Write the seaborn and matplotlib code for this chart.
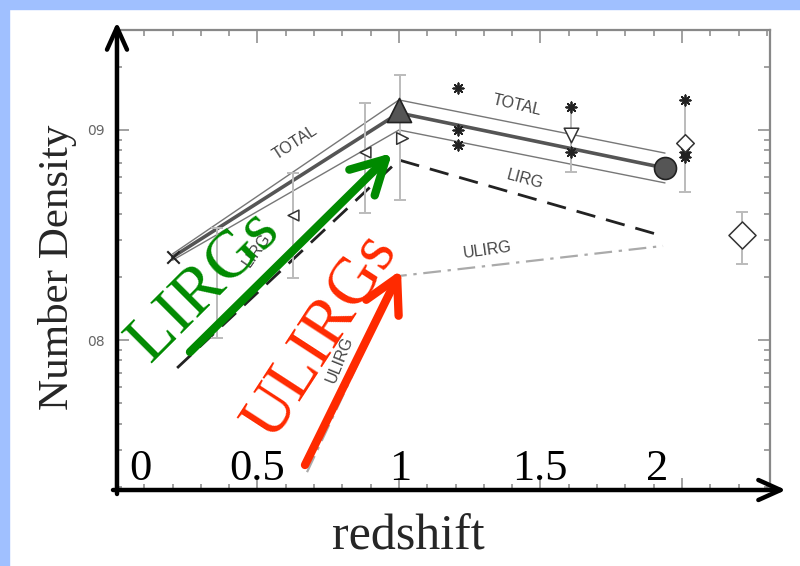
import numpy as np
import matplotlib
matplotlib.use("Agg")
import matplotlib.pyplot as plt
from matplotlib.patches import Rectangle
from matplotlib.ticker import FixedLocator, FixedFormatter, MultipleLocator, LogLocator, NullFormatter
import seaborn as sns

# model curves: redshift vs log10 number density
total_z = [0.20, 1.0, 1.94]
total_mid = [8.395, 9.081, 8.819]
total_hi = [8.41, 9.143, 8.89]
total_lo = [8.38, 9.0, 8.748]
lirg_z = [0.216, 1.0, 1.933]
lirg_n = [7.867, 8.857, 8.495]
ulirg_z = [0.675, 1.0, 1.933]
ulirg_n = [7.371, 8.305, 8.448]

# measurements with error bars
err_z = [0.357, 0.625, 0.88, 1.003, 1.608, 2.011, 2.212]
err_lo = [8.010, 8.295, 8.605, 8.667, 8.80, 8.705, 8.362]
err_hi = [8.533, 8.795, 9.129, 9.262, 9.11, 9.143, 8.61]

cross_z, cross_n = [0.20], [8.395]
tri_z, tri_n = [1.0], [9.095]
circ_z, circ_n = [1.94], [8.819]
rtri_z, rtri_n = [1.01], [8.962]
ltri_z, ltri_n = [0.625, 0.88], [8.595, 8.895]
dtri_z, dtri_n = [1.608], [8.976]
star_z = [1.208, 1.208, 1.208, 1.608, 1.608, 2.011, 2.011, 2.011]
star_n = [9.20, 9.0, 8.929, 9.11, 8.895, 9.143, 8.895, 8.871]
dia_z, dia_n = [2.011], [8.938]
bigdia_z, bigdia_n = [2.212], [8.50]

ytick_vals = [8, 9]
ytick_text = ["08", "09"]
slide_ticks = ["0", "0.5", "1", "1.5", "2"]
slide_tick_z = [0.085, 0.498, 1.003, 1.498, 1.912]

def dens(v):
    return 10 ** np.asarray(v, dtype=float)

sns.set_style("white")
plt.rcParams['font.family'] = ['Liberation Serif', 'DejaVu Serif']

fig = plt.figure(figsize=(8, 5.66), dpi=100)
fig.patches.append(Rectangle((0, 1 - 9 / 566), 1, 9 / 566, transform=fig.transFigure,
                             color='#a0c0ff', zorder=0))
fig.patches.append(Rectangle((0, 0), 9 / 800, 1, transform=fig.transFigure,
                             color='#a0c0ff', zorder=0))

ax = fig.add_axes([116 / 800, 1 - 490 / 566, 654 / 800, 460 / 566])
ax.set_yscale('log')

# scanned figure (grey)
sns.lineplot(x=total_z, y=dens(total_hi), ax=ax, color='#777777', lw=1.0, sort=False)
sns.lineplot(x=total_z, y=dens(total_lo), ax=ax, color='#777777', lw=1.0, sort=False)
sns.lineplot(x=total_z, y=dens(total_mid), ax=ax, color='#555555', lw=2.6, sort=False)
sns.lineplot(x=lirg_z, y=dens(lirg_n), ax=ax, color='#222222', lw=2.0,
             linestyle=(0, (7, 4)), sort=False)
sns.lineplot(x=ulirg_z, y=dens(ulirg_n), ax=ax, color='#aaaaaa', lw=1.6,
             linestyle=(0, (8, 3, 1.5, 3)), sort=False)

mid = (np.asarray(err_lo) + np.asarray(err_hi)) / 2
ax.errorbar(err_z, dens(mid), yerr=[dens(mid) - dens(err_lo), dens(err_hi) - dens(mid)],
            fmt='none', ecolor='#bbbbbb', elinewidth=1.4, capsize=4.3, capthick=1.4, zorder=2)

sns.scatterplot(x=cross_z, y=dens(cross_n), ax=ax, marker='x', s=80, color='#222222',
                linewidth=1.5, zorder=4)
sns.scatterplot(x=star_z, y=dens(star_n), ax=ax, marker=(8, 2, 0), s=55, color='#222222',
                linewidth=1.3, zorder=4)
sns.scatterplot(x=tri_z, y=dens(tri_n), ax=ax, marker='^', s=300, color='#555555',
                edgecolor='#222222', linewidth=1.2, zorder=5)
sns.scatterplot(x=circ_z, y=dens(circ_n), ax=ax, marker='o', s=250, color='#555555',
                edgecolor='#222222', linewidth=1.2, zorder=5)
for mz, mn, mk, sz in [(rtri_z, rtri_n, '>', 70), (ltri_z, ltri_n, '<', 60),
                       (dtri_z, dtri_n, 'v', 110), (dia_z, dia_n, 'D', 80),
                       (bigdia_z, bigdia_n, 'D', 190)]:
    sns.scatterplot(x=mz, y=dens(mn), ax=ax, marker=mk, s=sz, facecolor='white',
                    edgecolor='#333333', linewidth=1.1, zorder=4)

scan_font = dict(family='Liberation Sans', color='#444444', fontsize=11.5,
                 ha='center', va='center')
ax.text(0.633, dens(8.938), "TOTAL", rotation=33, **scan_font)
ax.text(1.417, dens(9.119), "TOTAL", rotation=-13, **scan_font)
ax.text(1.445, dens(8.762), "LIRG", rotation=-15, **scan_font)
ax.text(1.311, dens(8.429), "ULIRG", rotation=8, **scan_font)
ax.text(0.498, dens(8.429), "LIRG", rotation=55, **scan_font)
ax.text(0.79, dens(7.905), "ULIRG", rotation=68, **scan_font)

ax.set_xlim(0, 2.311)
ax.set_ylim(dens(7.286), dens(9.476))
ax.xaxis.set_major_locator(MultipleLocator(0.5))
ax.xaxis.set_minor_locator(MultipleLocator(0.1))
ax.xaxis.set_major_formatter(NullFormatter())
ax.yaxis.set_major_locator(FixedLocator(dens(ytick_vals)))
ax.yaxis.set_major_formatter(FixedFormatter(ytick_text))
ax.yaxis.set_minor_locator(LogLocator(base=10, subs=np.arange(2, 10)))
ax.yaxis.set_minor_formatter(NullFormatter())
ax.tick_params(which='both', direction='in', top=True, right=True, bottom=True, left=True,
               color='#888888', width=1.1)
ax.tick_params(which='major', length=9)
ax.tick_params(which='minor', length=4)
ax.tick_params(axis='y', which='major', labelsize=10, labelcolor='#666666', pad=8)
for lab in ax.get_yticklabels():
    lab.set_family('DejaVu Sans')
for sp in ax.spines.values():
    sp.set_color('#888888')
    sp.set_linewidth(1.6)
ax.set_xlabel("")
ax.set_ylabel("")

# slide overlay
for lab, z in zip(slide_ticks, slide_tick_z):
    ax.text(z, 0.022, lab, transform=ax.get_xaxis_transform(), fontsize=32,
            ha='center', va='baseline', color='black', zorder=8)

fig.text(0.0725, 0.528, "Number Density", rotation=90, fontsize=31,
         ha='center', va='center')
fig.text(0.511, 0.051, "redshift", fontsize=36, ha='center', va='center')

black_arrow = dict(arrowstyle='->,head_length=0.8,head_width=0.36', lw=3.2, color='black',
                   mutation_scale=20, shrinkA=0, shrinkB=0,
                   capstyle='round', joinstyle='round')
ax.annotate("", xy=(117 / 800, 1 - 22 / 566), xytext=(117 / 800, 1 - 494 / 566),
            xycoords='figure fraction', textcoords='figure fraction',
            arrowprops=black_arrow, annotation_clip=False, zorder=9)
ax.annotate("", xy=(786 / 800, 1 - 490 / 566), xytext=(113 / 800, 1 - 490 / 566),
            xycoords='figure fraction', textcoords='figure fraction',
            arrowprops=black_arrow, annotation_clip=False, zorder=9)

green = '#008a00'
red = '#ff2a00'
ax.annotate("", xy=(392 / 800, 1 - 153 / 566), xytext=(190 / 800, 1 - 352 / 566),
            xycoords='figure fraction', textcoords='figure fraction',
            arrowprops=dict(arrowstyle='->,head_length=1.2,head_width=0.65', lw=6,
                            color=green, mutation_scale=20, shrinkA=0, shrinkB=0,
                            capstyle='round', joinstyle='round'),
            annotation_clip=False, zorder=9)
ax.annotate("", xy=(401 / 800, 1 - 270 / 566), xytext=(305 / 800, 1 - 465 / 566),
            xycoords='figure fraction', textcoords='figure fraction',
            arrowprops=dict(arrowstyle='->,head_length=1.2,head_width=0.65', lw=6,
                            color=red, mutation_scale=20, shrinkA=0, shrinkB=0,
                            capstyle='round', joinstyle='round'),
            annotation_clip=False, zorder=9)
fig.text(0.256, 0.494, "LIRGs", rotation=45, fontsize=49, color=green,
         ha='center', va='center', zorder=10)
fig.text(0.402, 0.405, "ULIRGs", rotation=57, fontsize=48, color=red,
         ha='center', va='center', zorder=10)

fig.savefig("out.png", dpi=100)
